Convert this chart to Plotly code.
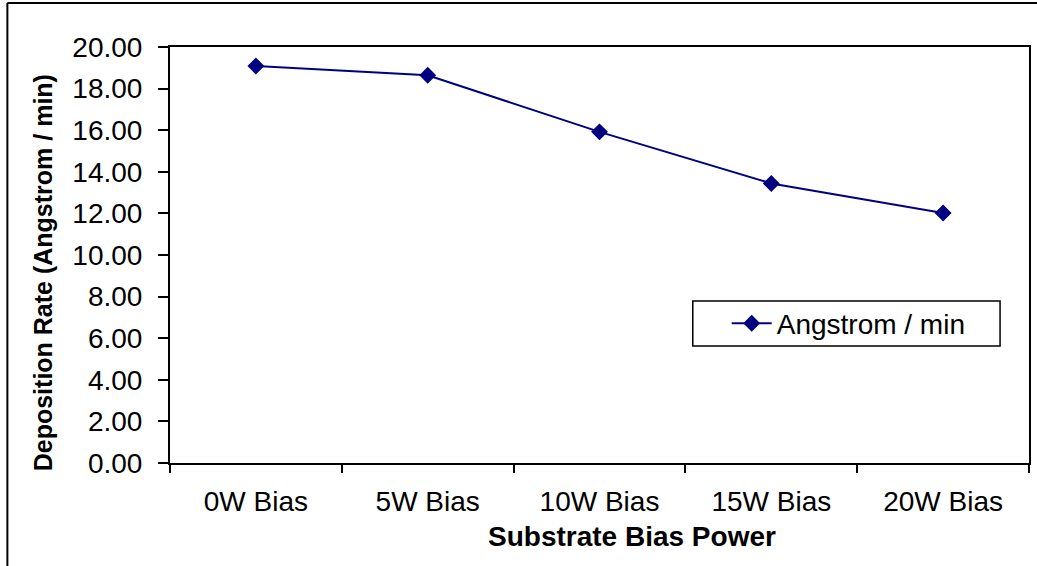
import plotly.graph_objects as go

categories = ["0W Bias", "5W Bias", "10W Bias", "15W Bias", "20W Bias"]
rates = [19.09, 18.64, 15.92, 13.44, 12.02]
series_name = "Angstrom / min"
x_title = "Substrate Bias Power"
y_title = "Deposition Rate (Angstrom / min)"

FONT = "Liberation Sans, Arial, sans-serif"
FS = 28
W, H = 1037, 566
L, R, T, B = 170, 6, 47, 103
pw, ph = W - L - R, H - T - B

def px_x(x):
    return (x - L) / pw

def px_y(y):
    return (H - B - y) / ph

fig = go.Figure()
fig.add_trace(go.Scatter(
    x=categories, y=rates, name=series_name, mode="lines+markers",
    line=dict(color="#000080", width=2),
    marker=dict(symbol="diamond", size=13, color="#000080"),
))

fig.update_layout(
    width=W, height=H,
    margin=dict(l=L, r=R, t=T, b=B),
    paper_bgcolor="white", plot_bgcolor="white",
    font=dict(family=FONT, size=FS, color="black"),
    showlegend=True,
    legend=dict(
        x=px_x(728), y=px_y(323.5), xanchor="left", yanchor="middle",
        borderwidth=0, bgcolor="rgba(0,0,0,0)",
        font=dict(family=FONT, size=FS, color="black"),
        itemwidth=40,
    ),
    xaxis=dict(
        type="category", range=[-0.5, 4.5],
        showline=True, linecolor="black", linewidth=2, mirror=True,
        ticks="outside", tickson="boundaries", ticklen=8, tickwidth=1.5, tickcolor="black",
        showgrid=False, zeroline=False,
        tickfont=dict(family=FONT, size=FS, color="black"),
        ticklabelstandoff=12,
    ),
    yaxis=dict(
        range=[0, 20], dtick=2, tick0=0, tickformat=".2f",
        showline=True, linecolor="black", linewidth=2, mirror=True,
        ticks="outside", ticklen=10, tickwidth=1.5, tickcolor="black",
        showgrid=False, zeroline=False,
        tickfont=dict(family=FONT, size=FS, color="black"),
        ticklabelstandoff=10,
    ),
    annotations=[
        dict(text="<b>" + x_title + "</b>", xref="paper", yref="paper",
             x=px_x(633), y=px_y(536), xanchor="center", yanchor="middle",
             showarrow=False, font=dict(family=FONT, size=FS, color="black")),
        dict(text="<b>" + y_title + "</b>", xref="paper", yref="paper",
             x=px_x(43), y=px_y(273), xanchor="center", yanchor="middle",
             textangle=-90, showarrow=False,
             font=dict(family=FONT, size=25, color="black")),
    ],
    shapes=[
        dict(type="line", xref="paper", yref="paper",
             x0=px_x(7), x1=px_x(7), y0=px_y(3), y1=px_y(570),
             line=dict(color="black", width=2)),
        dict(type="line", xref="paper", yref="paper",
             x0=px_x(7), x1=px_x(1040), y0=px_y(3), y1=px_y(3),
             line=dict(color="black", width=2)),
        dict(type="rect", xref="paper", yref="paper",
             x0=px_x(694), x1=px_x(1002), y0=px_y(301), y1=px_y(346),
             line=dict(color="black", width=1.5), fillcolor="white", layer="below"),
    ],
)

fig.write_html("out.html")
